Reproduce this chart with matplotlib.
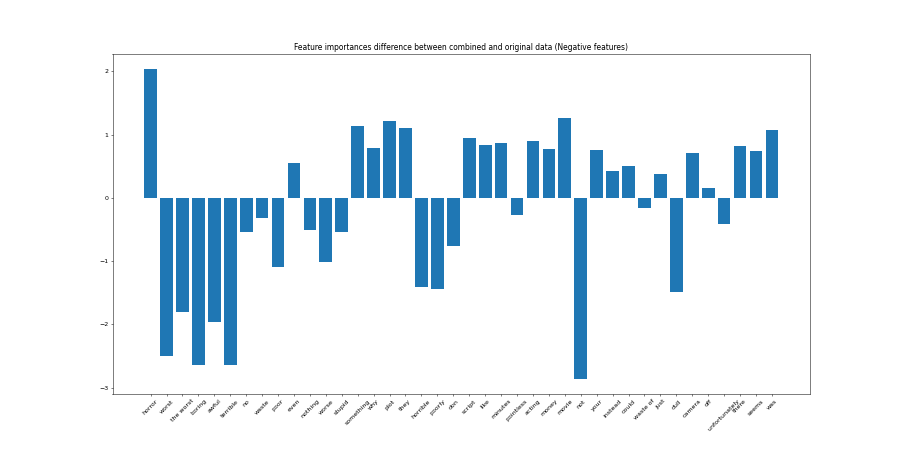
import matplotlib
matplotlib.use("Agg")
import matplotlib.pyplot as plt

features = [
    "horror", "worst", "the worst", "boring", "awful", "terrible", "no",
    "waste", "poor", "even", "nothing", "worse", "stupid", "something",
    "why", "plot", "they", "horrible", "poorly", "don", "script", "like",
    "minutes", "pointless", "acting", "money", "movie", "not", "your",
    "instead", "could", "waste of", "just", "dull", "camera", "off",
    "unfortunately", "there", "seems", "was",
]
differences = [
    2.03, -2.50, -1.80, -2.65, -1.96, -2.65, -0.54,
    -0.32, -1.10, 0.55, -0.51, -1.02, -0.54, 1.13,
    0.79, 1.21, 1.11, -1.41, -1.44, -0.76, 0.95, 0.84,
    0.87, -0.27, 0.90, 0.78, 1.27, -2.86, 0.75,
    0.43, 0.51, -0.16, 0.37, -1.49, 0.71, 0.16,
    -0.41, 0.82, 0.74, 1.08,
]

plt.figure(figsize=(20, 10))
plt.bar(features, differences)
plt.xticks(rotation=45)
plt.title("Feature importances difference between combined and original data (Negative features)")
plt.subplots_adjust(bottom=0.124)
plt.savefig("out.png", dpi=45)
